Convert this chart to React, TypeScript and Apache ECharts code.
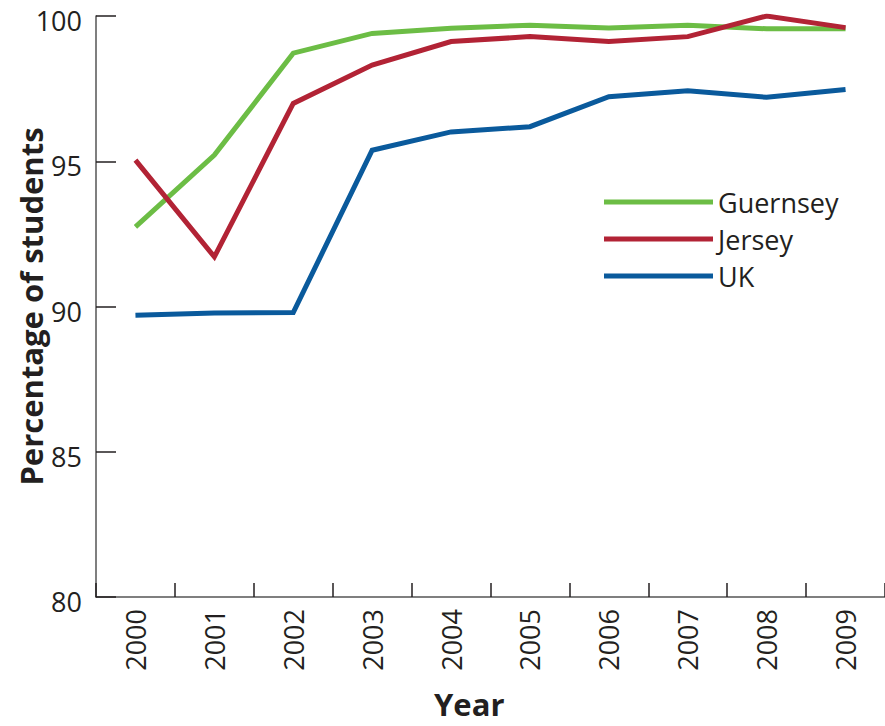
import React, { useEffect, useRef } from "react";
import * as echarts from "echarts";

const years = ["2000", "2001", "2002", "2003", "2004", "2005", "2006", "2007", "2008", "2009"];
const guernsey = [92.74, 95.21, 98.72, 99.4, 99.58, 99.68, 99.59, 99.68, 99.56, 99.56];
const jersey = [95.04, 91.71, 96.99, 98.31, 99.12, 99.29, 99.12, 99.29, 100.0, 99.6];
const uk = [89.7, 89.78, 89.79, 95.38, 96.01, 96.19, 97.22, 97.43, 97.2, 97.47];
const yTicks = { min: 80, max: 100, interval: 5 };

const FONT = "'Open Sans', 'Noto Sans', sans-serif";
const TEXT = "#231f20";
const AXIS = "#555555";

export default function App() {
  const ref = useRef<HTMLDivElement>(null);
  useEffect(() => {
    if (!ref.current) return;
    const chart = echarts.init(ref.current, null, { renderer: "svg" });
    const line = (name: string, data: number[], color: string) => ({
      name,
      type: "line",
      data,
      symbol: "none",
      lineStyle: { color, width: 5, join: "miter" },
      itemStyle: { color },
    });
    chart.setOption({
      animation: false,
      backgroundColor: "#ffffff",
      grid: { left: 96, right: 0, top: 16, bottom: 129, containLabel: false, outerBoundsMode: "none" },
      xAxis: {
        type: "category",
        data: years,
        boundaryGap: true,
        axisLine: { show: true, lineStyle: { color: AXIS, width: 1.5 } },
        axisTick: { show: true, inside: true, length: 14, lineStyle: { color: TEXT, width: 1.5 } },
        axisLabel: { rotate: 90, margin: 12, fontSize: 27, color: TEXT, fontFamily: FONT },
        splitLine: { show: false },
      },
      yAxis: {
        type: "value",
        min: yTicks.min,
        max: yTicks.max,
        interval: yTicks.interval,
        name: "Percentage of students",
        nameLocation: "middle",
        nameGap: 50,
        nameMoveOverlap: false,
        nameTextStyle: { fontSize: 31, fontWeight: "bold", color: TEXT, fontFamily: FONT },
        axisLine: { show: true, lineStyle: { color: AXIS, width: 1.5 } },
        axisTick: { show: true, inside: true, length: 20, lineStyle: { color: TEXT, width: 1.5 } },
        axisLabel: {
          margin: 14,
          formatter: "{v|{value}}",
          rich: { v: { fontSize: 27, lineHeight: 27, padding: [9, 0, 0, 0], color: TEXT, fontFamily: FONT } },
          color: TEXT,
          fontFamily: FONT,
        },
        splitLine: { show: false },
      },
      legend: {
        orient: "vertical",
        left: 599,
        top: 183,
        icon: "rect",
        itemWidth: 109,
        itemHeight: 5,
        itemGap: 9,
        data: ["Guernsey", "Jersey", "UK"],
        textStyle: { fontSize: 27, color: TEXT, fontFamily: FONT, lineHeight: 28 },
      },
      graphic: [
        {
          type: "text",
          left: 434,
          top: 688,
          style: { text: "Year", fontSize: 31, fontWeight: "bold", fill: TEXT, fontFamily: FONT },
        },
      ],
      series: [
        line("Guernsey", guernsey, "#6cbd45"),
        line("Jersey", jersey, "#b22335"),
        line("UK", uk, "#0a5a9c"),
      ],
    });
    return () => chart.dispose();
  }, []);
  return (
    <div
      ref={ref}
      style={{ position: "absolute", left: 0, top: 0, width: 885, height: 726 }}
    />
  );
}
